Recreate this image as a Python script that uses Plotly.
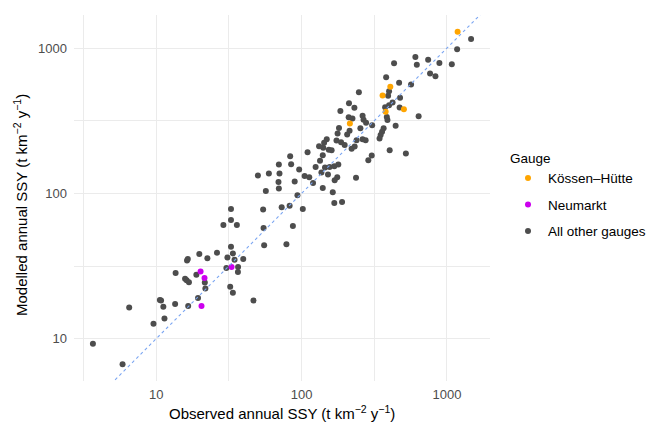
import numpy as np
import plotly.graph_objects as go

# ---------------- data ----------------
obs_other = [3.67, 5.87, 6.52, 9.58, 10.6, 10.8, 11.2, 11.4, 13.5, 13.6, 15.8, 16.2, 16.8, 16.3, 16.5,
             16.6, 19.4, 18.9, 19.8, 21.6, 21.8, 22.5, 26.2, 30.9, 32.7, 33.7, 34.6, 30.4, 36.6, 36.5,
             39.7, 32.3, 33.7, 46.7, 29.0, 32.7, 32.7, 35.9, 54.4, 54.8, 55.3, 73.0, 78.7, 82.8, 102,
             87.2, 93.7, 56.8, 50.1, 59.6, 69.8, 70.5, 69.4, 69.8, 83.5, 84.8, 96.3, 89.7, 105, 113,
             110, 120, 125, 134, 137, 140, 145, 156, 168, 179, 152, 164, 176, 169, 237,
             168, 190, 132, 141, 140, 149, 143, 154, 161, 174, 187, 198, 177, 181, 185,
             212, 231, 211, 224, 248, 263, 267, 278, 254, 306, 214, 206, 239, 263, 276,
             232, 221, 304, 288, 404, 522, 367, 358, 350, 344, 444, 386, 390, 639, 376,
             400, 423, 473, 400, 394, 476, 382, 469, 567, 433, 607, 621, 743, 888, 766,
             834, 1081, 1176, 1467]
mod_other = [9.24, 6.66, 16.4, 12.7, 18.5, 18.3, 16.6, 13.8, 17.3, 28.3, 25.9, 25.3, 24.5, 34.5, 35.3,
             16.8, 19.1, 27.6, 38.3, 24.4, 22.2, 35.8, 39.1, 36.2, 43.0, 38.6, 34.9, 30.7, 31.1, 28.8,
             35.3, 22.8, 20.7, 18.3, 60.6, 78.1, 65.6, 60.6, 77.5, 57.8, 43.9, 80.2, 44.7, 82.3, 78.1,
             59.7, 97.1, 104, 133, 137, 158, 137, 120, 108, 180, 159, 146, 121, 132, 129,
             192, 118, 152, 168, 139, 109, 151, 152, 154, 158, 135, 102, 129, 123, 128,
             85.8, 87.2, 211, 206, 183, 236, 223, 200, 198, 231, 225, 215, 258, 282, 369,
             417, 389, 334, 328, 496, 342, 321, 306, 281, 295, 270, 254, 232, 236, 232,
             210, 203, 182, 169, 198, 188, 281, 266, 252, 239, 292, 336, 320, 340, 392,
             404, 422, 390, 504, 470, 455, 629, 577, 561, 785, 870, 767, 830, 791, 668,
             639, 773, 980, 1153]

obs_kossen = [1185, 408, 361, 506, 379, 215]
mod_kossen = [1298, 543, 471, 379, 365, 303]

obs_neumarkt = [20.2, 21.5, 20.5, 33.0]
mod_neumarkt = [29.0, 26.2, 16.8, 31.2]

series_names = ["K\u00f6ssen\u2013H\u00fctte", "Neumarkt", "All other gauges"]
tick_vals = [10, 100, 1000]
tick_text = ["10", "100", "1000"]

# ---------------- scales (ggplot-like 5% expansion on log scale) ----------------
all_x = np.log10(np.array(obs_other + obs_kossen + obs_neumarkt))
all_y = np.log10(np.array(mod_other + mod_kossen + mod_neumarkt))
def expand(v):
    lo, hi = v.min(), v.max()
    s = hi - lo
    return [lo - 0.05 * s, hi + 0.05 * s]
xr = expand(all_x)
yr = expand(all_y)

GREY = "#4D4D4D"
fig = go.Figure()

fig.add_trace(go.Scatter(
    x=obs_other, y=mod_other, mode="markers", name=series_names[2],
    legendgroup="c", legendrank=3,
    marker=dict(color="#4D4D4D", size=6, line=dict(width=0))))
fig.add_trace(go.Scatter(
    x=obs_kossen, y=mod_kossen, mode="markers", name=series_names[0],
    legendgroup="a", legendrank=1,
    marker=dict(color="#FFA500", size=6, line=dict(width=0))))
fig.add_trace(go.Scatter(
    x=obs_neumarkt, y=mod_neumarkt, mode="markers", name=series_names[1],
    legendgroup="b", legendrank=2,
    marker=dict(color="#CC00EE", size=6, line=dict(width=0))))

# 1:1 line across the panel
lo = 10 ** min(xr[0], yr[0]) / 2
hi = 10 ** max(xr[1], yr[1]) * 2
fig.add_trace(go.Scatter(
    x=[lo, hi], y=[lo, hi], mode="lines", showlegend=False, hoverinfo="skip",
    line=dict(color="#7AA5F2", width=1.1, dash="3px,3px")))

grid_major = "#EBEBEB"
axis_common = dict(
    type="log", tickvals=tick_vals, ticktext=tick_text, ticks="", automargin=False,
    showline=False, zeroline=False, showgrid=True, gridcolor=grid_major, gridwidth=1.4,
    tickfont=dict(family="Liberation Sans", size=13, color=GREY),
)
fig.update_xaxes(range=xr, ticklabelstandoff=4,
                 minor=dict(tickvals=[10 ** 0.5, 10 ** 1.5, 10 ** 2.5, 10 ** 3.5],
                            showgrid=True, gridcolor=grid_major, gridwidth=0.7, ticks=""),
                 **axis_common)
fig.update_yaxes(range=yr, ticklabelstandoff=6,
                 minor=dict(tickvals=[10 ** 0.5, 10 ** 1.5, 10 ** 2.5, 10 ** 3.5],
                            showgrid=True, gridcolor=grid_major, gridwidth=0.7, ticks=""),
                 **axis_common)

fig.update_layout(
    width=648, height=422,
    margin=dict(l=74, r=158, t=15, b=41, pad=0, autoexpand=False),
    paper_bgcolor="white", plot_bgcolor="white",
    font=dict(family="Liberation Sans", color="black"),
    legend=dict(
        title=dict(text="Gauge", font=dict(size=13.5, color="black")),
        font=dict(size=13.5, color="black"),
        x=(508 - 74) / 416, xanchor="left",
        y=0.505, yanchor="middle",
        tracegroupgap=6,
        bgcolor="rgba(0,0,0,0)",
    ),
    annotations=[
        dict(text="Observed annual SSY (t km<sup>\u22122</sup> y<sup>\u22121</sup>)",
             xref="paper", yref="paper", x=0.5, y=(381 - 412) / 366,
             xanchor="center", yanchor="middle", showarrow=False,
             font=dict(size=15, color="black")),
        dict(text="Modelled annual SSY (t km<sup>\u22122</sup> y<sup>\u22121</sup>)",
             xref="paper", yref="paper", x=(20 - 74) / 416, y=(381 - 205) / 366,
             xanchor="center", yanchor="middle", textangle=-90, showarrow=False,
             font=dict(size=15, color="black")),
    ],
)

fig.write_html("out.html",
               config={"displayModeBar": False},
               post_script="document.body.style.margin='0';document.body.style.padding='0';")
